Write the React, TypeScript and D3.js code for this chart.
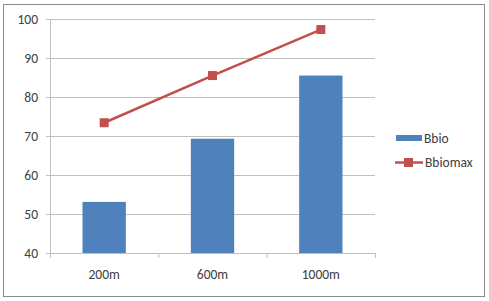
import React from "react";
import * as d3 from "d3";

const categories = ["200m", "600m", "1000m"];
const bbio = [53.1, 69.3, 85.5];
const bbiomax = [73.4, 85.5, 97.3];
const yTicks = [40, 50, 60, 70, 80, 90, 100];
const seriesNames = ["Bbio", "Bbiomax"];

const W = 489;
const H = 301;
const FONT = "Carlito, Lato, 'Open Sans', sans-serif";
const FS = 13.5;

export default function App() {
  const x = d3.scaleBand<string>().domain(categories).range([50, 375]).paddingInner(0).paddingOuter(0);
  const y = d3.scaleLinear().domain([40, 100]).range([253, 19]);
  const bw = x.bandwidth() / 2.5;
  const line = d3
    .line<number>()
    .x((_, i) => (x(categories[i]) as number) + x.bandwidth() / 2)
    .y((d) => y(d));
  const tickXs = [...categories.map((c) => x(c) as number), 375];
  return (
    <svg
      width={W}
      height={H}
      style={{ position: "absolute", left: 0, top: 0, background: "#fff" }}
      fontFamily={FONT}
    >
      <rect x={0} y={0} width={W} height={H} fill="#fff" />
      <rect x={3.5} y={4.5} width={481} height={292} fill="#fff" stroke="#8c8c8c" strokeWidth={1} />
      {yTicks.map((t) => (
        <g key={t}>
          <line x1={50} x2={375} y1={Math.round(y(t)) + 0.5} y2={Math.round(y(t)) + 0.5} stroke="#c0c0c0" strokeWidth={1} />
          <line x1={46} x2={50} y1={Math.round(y(t)) + 0.5} y2={Math.round(y(t)) + 0.5} stroke="#c0c0c0" strokeWidth={1} />
          <text x={38} y={y(t)} dy="0.35em" textAnchor="end" fontSize={FS} fill="#404040">
            {t}
          </text>
        </g>
      ))}
      <line x1={50.5} x2={50.5} y1={19} y2={253} stroke="#c0c0c0" strokeWidth={1} />
      {tickXs.map((tx, i) => (
        <line key={i} x1={tx + 0.5} x2={tx + 0.5} y1={253} y2={258} stroke="#c0c0c0" strokeWidth={1} />
      ))}
      {categories.map((c, i) => (
        <g key={c}>
          <rect
            x={(x(c) as number) + x.bandwidth() / 2 - bw / 2}
            y={y(bbio[i])}
            width={bw}
            height={y(40) - y(bbio[i])}
            fill="#4f81bd"
          />
          <text
            x={(x(c) as number) + x.bandwidth() / 2}
            y={274}
            dy="0.35em"
            textAnchor="middle"
            fontSize={FS}
            fill="#404040"
          >
            {c}
          </text>
        </g>
      ))}
      <path d={line(bbiomax) || ""} fill="none" stroke="#c0504d" strokeWidth={2.5} />
      {bbiomax.map((v, i) => (
        <rect
          key={i}
          x={(x(categories[i]) as number) + x.bandwidth() / 2 - 4.5}
          y={y(v) - 4.5}
          width={9}
          height={9}
          fill="#c0504d"
        />
      ))}
      <rect x={396} y={135} width={26} height={6} fill="#4f81bd" />
      <text x={424} y={138} dy="0.35em" fontSize={FS} fill="#404040">
        {seriesNames[0]}
      </text>
      <line x1={395} x2={423} y1={162.5} y2={162.5} stroke="#c0504d" strokeWidth={2.5} />
      <rect x={404} y={158} width={9} height={9} fill="#c0504d" />
      <text x={425} y={162} dy="0.35em" fontSize={FS} fill="#404040">
        {seriesNames[1]}
      </text>
    </svg>
  );
}
